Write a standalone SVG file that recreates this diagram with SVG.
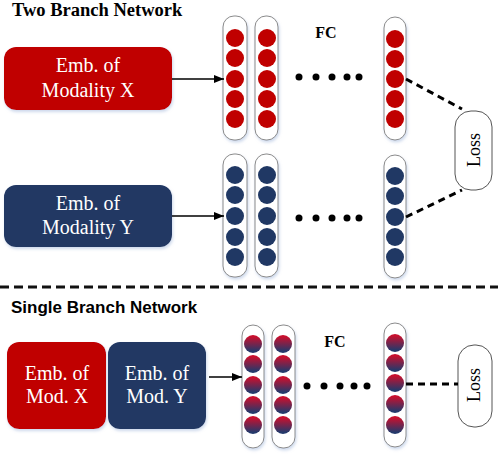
<svg xmlns="http://www.w3.org/2000/svg" width="498" height="456" viewBox="0 0 498 456">
<defs>
<linearGradient id="mix" x1="0" y1="0" x2="0" y2="1">
<stop offset="0.1" stop-color="#C8102E"/>
<stop offset="0.9" stop-color="#24396B"/>
</linearGradient>
<marker id="arr" markerWidth="10" markerHeight="8" refX="10" refY="4" orient="auto" markerUnits="userSpaceOnUse">
<path d="M0,0 L10,4 L0,8 Z" fill="#000"/>
</marker>
<filter id="sh" x="-20%" y="-20%" width="140%" height="140%">
<feDropShadow dx="1" dy="2" stdDeviation="1.5" flood-color="#9DB3D9" flood-opacity="0.5"/>
</filter>
</defs>
<style>
.title{font-family:"Liberation Serif",serif;font-weight:bold;font-size:18.5px;fill:#000}
.title2{font-family:"Liberation Sans",sans-serif;font-weight:bold;font-size:17px;fill:#000}
.emb{font-family:"Liberation Serif",serif;font-size:20px;fill:#fff;text-anchor:middle}
.fc{font-family:"Liberation Serif",serif;font-weight:bold;font-size:16px;fill:#000;text-anchor:middle}
.loss{font-family:"Liberation Serif",serif;font-size:18px;fill:#000;text-anchor:middle}
.col{fill:#fff;stroke:#8a8a8a;stroke-width:1}
.lossbox{fill:#fff;stroke:#555;stroke-width:1}
.red{fill:#C00000}
.navy{fill:#203864}
.mix{fill:url(#mix)}
.dot{fill:#000}
.arrow{stroke:#000;stroke-width:1.5;fill:none;marker-end:url(#arr)}
.dash{stroke:#000;stroke-width:3;stroke-dasharray:7 5;fill:none}
.sep{stroke:#111;stroke-width:3;stroke-dasharray:9 5;fill:none}
</style>

<text class="title" x="12" y="16">Two Branch Network</text>
<text class="title2" x="11" y="313">Single Branch Network</text>

<g id="embX">
<rect x="4" y="47" width="168" height="63" rx="12" class="red" filter="url(#sh)"/>
<text class="emb" x="88" y="72">Emb. of</text>
<text class="emb" x="88" y="97">Modality X</text>
</g>
<g id="embY">
<rect x="4" y="185" width="168" height="62" rx="12" class="navy" filter="url(#sh)"/>
<text class="emb" x="88" y="210">Emb. of</text>
<text class="emb" x="88" y="234">Modality Y</text>
</g>

<g id="colX1">
<rect class="col" x="223" y="16" width="24" height="124" rx="11" filter="url(#sh)"/>
<circle class="red" cx="235" cy="38" r="9"/><circle class="red" cx="235" cy="58" r="9"/><circle class="red" cx="235" cy="79" r="9"/><circle class="red" cx="235" cy="99" r="9"/><circle class="red" cx="235" cy="119" r="9"/>
</g>
<g id="colX2">
<rect class="col" x="255" y="16" width="23" height="124" rx="11" filter="url(#sh)"/>
<circle class="red" cx="267" cy="38" r="9"/><circle class="red" cx="267" cy="58" r="9"/><circle class="red" cx="267" cy="79" r="9"/><circle class="red" cx="267" cy="99" r="9"/><circle class="red" cx="267" cy="119" r="9"/>
</g>
<g id="colX3">
<rect class="col" x="384" y="17" width="22" height="123" rx="11" filter="url(#sh)"/>
<circle class="red" cx="395" cy="39" r="9"/><circle class="red" cx="395" cy="59" r="9"/><circle class="red" cx="395" cy="79" r="9"/><circle class="red" cx="395" cy="99" r="9"/><circle class="red" cx="395" cy="119" r="9"/>
</g>
<g id="dotsX">
<circle class="dot" cx="299" cy="77" r="3.5"/><circle class="dot" cx="316" cy="77" r="3.5"/><circle class="dot" cx="332" cy="77" r="3.5"/><circle class="dot" cx="347" cy="77" r="3.5"/><circle class="dot" cx="359" cy="77" r="3.5"/>
</g>
<text class="fc" x="326" y="38">FC</text>

<g id="colY1">
<rect class="col" x="223" y="154" width="24" height="123" rx="11" filter="url(#sh)"/>
<circle class="navy" cx="235" cy="175" r="9"/><circle class="navy" cx="235" cy="195" r="9"/><circle class="navy" cx="235" cy="216" r="9"/><circle class="navy" cx="235" cy="237" r="9"/><circle class="navy" cx="235" cy="257" r="9"/>
</g>
<g id="colY2">
<rect class="col" x="255" y="154" width="23" height="123" rx="11" filter="url(#sh)"/>
<circle class="navy" cx="267" cy="175" r="9"/><circle class="navy" cx="267" cy="195" r="9"/><circle class="navy" cx="267" cy="216" r="9"/><circle class="navy" cx="267" cy="237" r="9"/><circle class="navy" cx="267" cy="257" r="9"/>
</g>
<g id="colY3">
<rect class="col" x="384" y="155" width="22" height="123" rx="11" filter="url(#sh)"/>
<circle class="navy" cx="395" cy="176" r="9"/><circle class="navy" cx="395" cy="196" r="9"/><circle class="navy" cx="395" cy="217" r="9"/><circle class="navy" cx="395" cy="237" r="9"/><circle class="navy" cx="395" cy="257" r="9"/>
</g>
<g id="dotsY">
<circle class="dot" cx="299" cy="218" r="3.5"/><circle class="dot" cx="316" cy="218" r="3.5"/><circle class="dot" cx="332" cy="218" r="3.5"/><circle class="dot" cx="347" cy="218" r="3.5"/><circle class="dot" cx="359" cy="218" r="3.5"/>
</g>

<g id="lossTop">
<rect class="lossbox" x="455" y="111" width="37" height="79" rx="16"/>
<text class="loss" transform="translate(480,150) rotate(-90)" x="0" y="0">Loss</text>
</g>

<g id="embXb">
<rect x="7" y="342" width="99" height="87" rx="12" class="red" filter="url(#sh)"/>
<text class="emb" x="57" y="380">Emb. of</text>
<text class="emb" x="57" y="403">Mod. X</text>
</g>
<g id="embYb">
<rect x="108" y="342" width="98" height="87" rx="12" class="navy" filter="url(#sh)"/>
<text class="emb" x="157" y="380">Emb. of</text>
<text class="emb" x="157" y="403">Mod. Y</text>
</g>

<g id="colM1">
<rect class="col" x="242" y="325" width="22" height="123" rx="11" filter="url(#sh)"/>
<circle class="mix" cx="253" cy="344" r="9"/><circle class="mix" cx="253" cy="364" r="9"/><circle class="mix" cx="253" cy="385" r="9"/><circle class="mix" cx="253" cy="405" r="9"/><circle class="mix" cx="253" cy="425" r="9"/>
</g>
<g id="colM2">
<rect class="col" x="272" y="325" width="23" height="123" rx="11" filter="url(#sh)"/>
<circle class="mix" cx="283" cy="344" r="9"/><circle class="mix" cx="283" cy="364" r="9"/><circle class="mix" cx="283" cy="385" r="9"/><circle class="mix" cx="283" cy="405" r="9"/><circle class="mix" cx="283" cy="425" r="9"/>
</g>
<g id="colM3">
<rect class="col" x="384" y="323" width="22" height="124" rx="11" filter="url(#sh)"/>
<circle class="mix" cx="395" cy="343" r="9"/><circle class="mix" cx="395" cy="363" r="9"/><circle class="mix" cx="395" cy="383" r="9"/><circle class="mix" cx="395" cy="404" r="9"/><circle class="mix" cx="395" cy="425" r="9"/>
</g>
<g id="dotsM">
<circle class="dot" cx="307" cy="386" r="3.5"/><circle class="dot" cx="324" cy="386" r="3.5"/><circle class="dot" cx="340" cy="386" r="3.5"/><circle class="dot" cx="354" cy="386" r="3.5"/><circle class="dot" cx="367" cy="386" r="3.5"/>
</g>
<text class="fc" x="335" y="347">FC</text>

<g id="lossBottom">
<rect class="lossbox" x="458" y="345" width="34" height="82" rx="16"/>
<text class="loss" transform="translate(480,385) rotate(-90)" x="0" y="0">Loss</text>
</g>

<g id="connectors">
<line class="arrow" x1="172" y1="79" x2="224" y2="79"/>
<line class="arrow" x1="172" y1="216" x2="224" y2="216"/>
<line class="arrow" x1="209" y1="377" x2="242" y2="377"/>
<line class="dash" x1="406" y1="79" x2="462" y2="109"/>
<line class="dash" x1="406" y1="217" x2="462" y2="190"/>
<line class="dash" x1="406" y1="384" x2="458" y2="384"/>
<line class="sep" x1="0" y1="287" x2="498" y2="287"/>
</g>
</svg>
